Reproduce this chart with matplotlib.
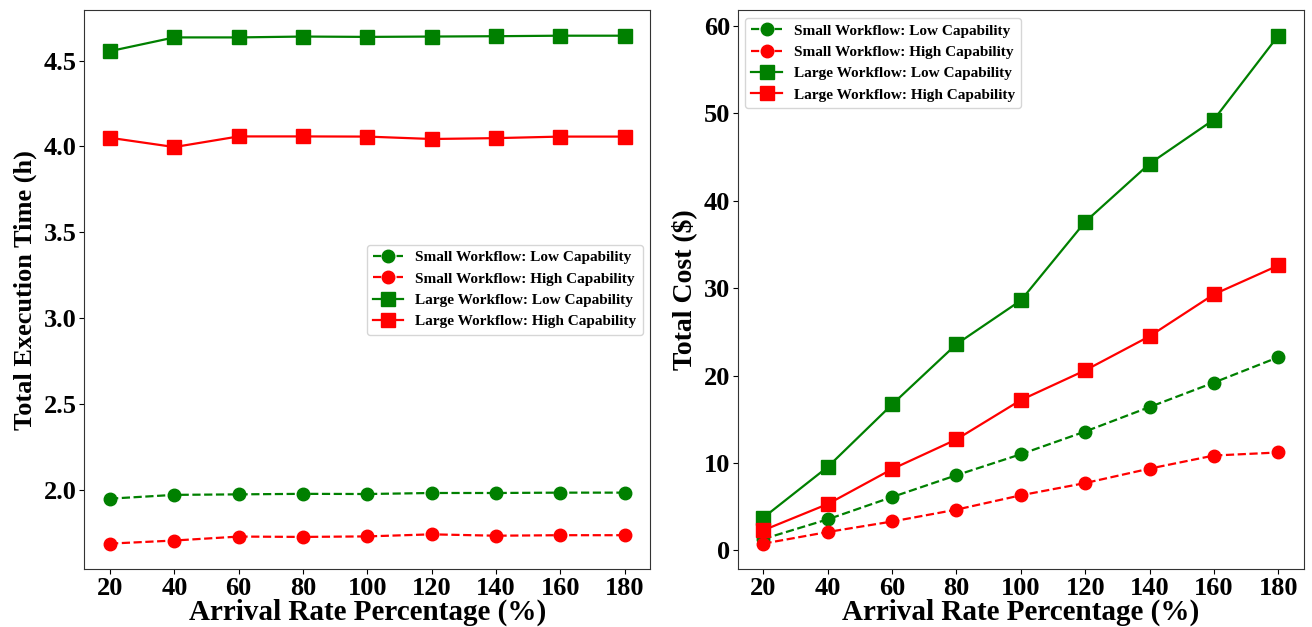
import matplotlib.pyplot as plt

plt.rcParams['font.family'] = ['Liberation Serif', 'DejaVu Serif']
plt.rcParams['font.weight'] = 'bold'

rates = [20, 40, 60, 80, 100, 120, 140, 160, 180]

# execution time (h)
time_small_low = [1.947, 1.969, 1.972, 1.975, 1.974, 1.980, 1.980, 1.982, 1.982]
time_small_high = [1.685, 1.703, 1.726, 1.724, 1.727, 1.739, 1.731, 1.734, 1.734]
time_large_low = [4.555, 4.635, 4.635, 4.640, 4.638, 4.640, 4.642, 4.645, 4.645]
time_large_high = [4.050, 3.996, 4.058, 4.058, 4.057, 4.043, 4.048, 4.057, 4.057]

# cost ($)
cost_small_low = [1.3, 3.55, 6.1, 8.6, 11.0, 13.6, 16.4, 19.2, 22.1]
cost_small_high = [0.77, 2.1, 3.3, 4.66, 6.3, 7.7, 9.35, 10.85, 11.2]
cost_large_low = [3.75, 9.55, 16.7, 23.6, 28.6, 37.6, 44.25, 49.3, 58.9]
cost_large_high = [2.3, 5.3, 9.3, 12.7, 17.2, 20.6, 24.5, 29.3, 32.6]

labels = ['Small Workflow: Low Capability', 'Small Workflow: High Capability',
          'Large Workflow: Low Capability', 'Large Workflow: High Capability']

fig = plt.figure(figsize=(13.12, 6.27), dpi=100)
ax1 = fig.add_axes([84.3 / 1312, 1 - 569 / 627, (650.3 - 84.3) / 1312, (569 - 10.3) / 627])
ax2 = fig.add_axes([737.7 / 1312, 1 - 569 / 627, (1304 - 737.7) / 1312, (569 - 10.3) / 627])


def draw(ax, sl, sh, ll, lh):
    ax.plot(rates, sl, '--', color='green', marker='o', markersize=9, linewidth=1.6, label=labels[0])
    ax.plot(rates, sh, '--', color='red', marker='o', markersize=9, linewidth=1.6, label=labels[1])
    ax.plot(rates, ll, '-', color='green', marker='s', markersize=9.5, linewidth=1.6, label=labels[2])
    ax.plot(rates, lh, '-', color='red', marker='s', markersize=9.5, linewidth=1.6, label=labels[3])
    ax.set_xticks(rates)
    ax.tick_params(labelsize=19, pad=2)
    for s in ax.spines.values():
        s.set_color('0.2')
    ax.set_xlabel('Arrival Rate Percentage (%)', fontsize=21, fontweight='bold', labelpad=-1)


draw(ax1, time_small_low, time_small_high, time_large_low, time_large_high)
ax1.set_ylabel('Total Execution Time (h)', fontsize=19, fontweight='bold', labelpad=5)
ax1.set_yticks([2.0, 2.5, 3.0, 3.5, 4.0, 4.5])
ax1.legend(loc='center right', prop={'size': 11, 'weight': 'bold'})

draw(ax2, cost_small_low, cost_small_high, cost_large_low, cost_large_high)
ax2.set_ylabel('Total Cost ($)', fontsize=20, fontweight='bold', labelpad=5)
ax2.legend(loc='upper left', prop={'size': 11, 'weight': 'bold'})

plt.savefig('out.png')
